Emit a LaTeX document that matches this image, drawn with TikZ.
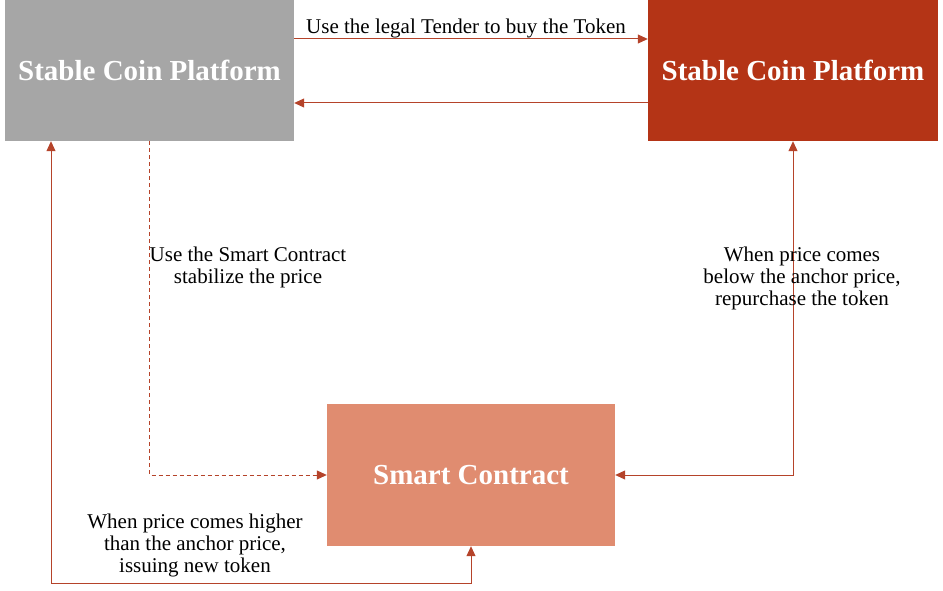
\documentclass[tikz,border=0pt]{standalone}
\usepackage{fontspec}
\setmainfont{Liberation Serif}
\usetikzlibrary{positioning,arrows.meta}
\definecolor{boxgray}{HTML}{A6A6A6}
\definecolor{boxred}{HTML}{B43416}
\definecolor{boxsalmon}{HTML}{E08C70}
\definecolor{linered}{HTML}{B5432A}
\tikzset{
	box/.style={minimum width=289pt,minimum height=141pt,inner sep=0pt,text=white,font=\fontsize{29}{34}\selectfont\bfseries},
	lbl/.style={align=center,inner sep=0pt,font=\fontsize{21}{22}\selectfont},
	conn/.style={draw=linered,line width=1pt,-{Triangle[length=10pt,width=9pt]}},
	biconn/.style={draw=linered,line width=1pt,{Triangle[length=10pt,width=9pt]}-{Triangle[length=10pt,width=9pt]}}
}
\begin{document}
\begin{tikzpicture}[x=1pt,y=-1pt]
		\useasboundingbox (0,0) rectangle (943,591);
		\node(buyer) [box,fill=boxgray] at (149.5,70.5) {\raisebox{-2pt}{Stable Coin Platform}};
		\node(issuer) [box,fill=boxred,minimum width=290pt] at (793,70.5) {\raisebox{-2pt}{Stable Coin Platform}};
		\node(contract) [box,fill=boxsalmon,minimum width=288pt,minimum height=142pt] at (471,475) {\raisebox{-2pt}{Smart Contract}};
		\coordinate(corner) at (51,583);
		\draw[conn] ([yshift=31.5pt]buyer.east) -- ([yshift=31.5pt]issuer.west)
			node [lbl,midway,above=0pt,xshift=-5pt] {Use the legal Tender to buy the Token};
		\draw[conn] ([yshift=-32.5pt]issuer.west) -- ([yshift=-32.5pt]buyer.east);
		\draw[conn,dash pattern=on 4pt off 3pt] (buyer.south) |- (contract.west);
		\draw[biconn] (contract.east) -| (issuer.south);
		\draw[biconn] (buyer.south -| corner) -- (corner) -| (contract.south);
		\node(stabilize) [lbl] at (248,267) {Use the Smart Contract\\stabilize the price};
		\node(repurchase) [lbl] at (802,278) {When price comes\\below the anchor price,\\repurchase the token};
		\node(issuing) [lbl] at (195,545) {When price comes higher\\than the anchor price,\\issuing new token};
	\end{tikzpicture}
\end{document}
